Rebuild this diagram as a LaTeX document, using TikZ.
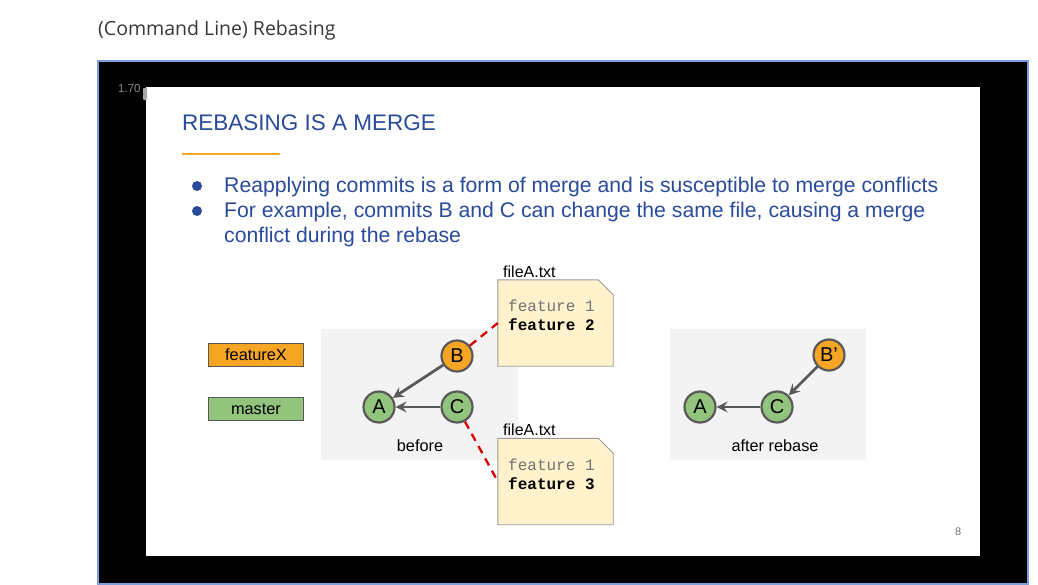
\documentclass[tikz,border=0pt]{standalone}
\usepackage{fontspec}
\setmainfont{Liberation Sans}
\setmonofont{Liberation Mono}
\newfontfamily\pagefont{Open Sans}
\usetikzlibrary{arrows.meta}

\definecolor{slideblue}{HTML}{2A4B9B}
\definecolor{gitorange}{HTML}{F6A623}
\definecolor{gitgreen}{HTML}{93C47D}
\definecolor{edgegray}{HTML}{595959}
\definecolor{notefill}{HTML}{FFF2CC}
\definecolor{panelgray}{HTML}{F3F3F3}
\definecolor{frameblue}{HTML}{7E9FDB}

\tikzset{
  txt/.style={anchor=base west, inner sep=0pt},
  bullettxt/.style={txt, text=slideblue, font=\fontsize{21.2}{21}\selectfont},
  bulletdot/.style={circle, fill=slideblue, minimum size=10pt, inner sep=0pt},
  commit/.style={circle, draw=edgegray, line width=2.2pt, minimum size=31pt, inner sep=0pt, font=\fontsize{20}{20}\selectfont},
  branchbox/.style={draw=edgegray, line width=1.6pt, minimum width=95pt, minimum height=23pt, inner sep=0pt, font=\fontsize{16.3}{16}\selectfont},
  notebox/.style={minimum width=115pt, minimum height=86pt, inner sep=0pt},
  notefold/.style={draw=black!40, line width=0.9pt, fill=notefill},
  parent/.style={-{Stealth[length=11pt,width=11pt,inset=4pt]}, draw=edgegray, line width=2.8pt},
  conflict/.style={draw=red!85!black, line width=2.3pt, dash pattern=on 8pt off 6pt}
}

\begin{document}
\begin{tikzpicture}[x=1pt, y=-1pt]
  \useasboundingbox[fill=white] (0,0) rectangle (1038,585);
  % page heading
  \node[txt, text=black!78, font=\pagefont\fontsize{19.5}{20}\selectfont] (heading) at (98,36) {(Command Line) Rebasing};
  % black player frame and white slide
  \draw[fill=black, draw=frameblue, line width=2pt] (98,61) rectangle (1028,584);
  \fill[white] (146,87) rectangle (980,556);
  \fill[black!35, rounded corners=1pt] (143,88) rectangle (147,100);
  \node[txt, text=black!45, font=\fontsize{11.5}{12}\selectfont] (speed) at (118,93) {1.70};

  % slide title
  \node[txt, text=slideblue, font=\fontsize{22.5}{22}\selectfont] (title) at (182,131) {REBASING IS A MERGE};
  \draw[gitorange, line width=2pt] (182,154) -- (280,154);

  % bullets
  \node[bulletdot] (dot1) at (197,186) {};
  \node[bulletdot] (dot2) at (197,211) {};
  \node[bullettxt] (line1) at (224,193) {Reapplying commits is a form of merge and is susceptible to merge conflicts};
  \node[bullettxt] (line2) at (224,218) {For example, commits B and C can change the same file, causing a merge};
  \node[bullettxt] (line3) at (224,243) {conflict during the rebase};

  % panels
  \fill[panelgray] (321,329) rectangle (518,460);
  \fill[panelgray] (670,329) rectangle (866,460);

  % branch labels
  \node[branchbox, fill=gitorange] (featureX) at (256,355) {featureX};
  \node[branchbox, fill=gitgreen] (master) at (256,409) {master};

  % before
  \node[commit, fill=gitorange] (B) at (457,356) {B};
  \node[commit, fill=gitgreen] (A) at (379,407) {A};
  \node[commit, fill=gitgreen] (C) at (457,407) {C};
  \draw[parent] (B) -- (A);
  \draw[parent] (C) -- (A);
  \node[font=\fontsize{16.3}{16}\selectfont] (before) at (420,446) {before};

  % after rebase
  \node[commit, fill=gitorange] (B2) at (829,355) {B'};
  \node[commit, fill=gitgreen] (A2) at (700,407) {A};
  \node[commit, fill=gitgreen] (C2) at (777,407) {C};
  \draw[parent] (B2) -- (C2);
  \draw[parent] (C2) -- (A2);
  \node[font=\fontsize{16.3}{16}\selectfont] (after) at (775,446) {after rebase};

  % files
  \node[txt, font=\fontsize{16}{16}\selectfont] (file1) at (503,277) {fileA.txt};
  \node[notebox] (note1) at (555.5,323) {};
  \draw[notefold] (note1.north west) -- ([xshift=-15pt]note1.north east) -- ([yshift=-15pt]note1.north east)
    -- (note1.south east) -- (note1.south west) -- cycle;
  \node[txt, text=black!55, font=\ttfamily\fontsize{16}{16}\selectfont] (n1a) at (508,311) {feature 1};
  \node[txt, font=\ttfamily\bfseries\fontsize{16}{16}\selectfont] (n1b) at (508,330) {feature 2};
  \node[txt, font=\fontsize{16}{16}\selectfont] (file2) at (503,435) {fileA.txt};
  \node[notebox] (note2) at (555.5,481.5) {};
  \draw[notefold] (note2.north west) -- ([xshift=-15pt]note2.north east) -- ([yshift=-15pt]note2.north east)
    -- (note2.south east) -- (note2.south west) -- cycle;
  \node[txt, text=black!55, font=\ttfamily\fontsize{16}{16}\selectfont] (n2a) at (508,470) {feature 1};
  \node[txt, font=\ttfamily\bfseries\fontsize{16}{16}\selectfont] (n2b) at (508,489) {feature 3};
  \draw[conflict] (B) -- (note1.west);
  \draw[conflict] (C) -- (note2.west);

  % slide number
  \node[txt, text=black!55, font=\fontsize{11}{11}\selectfont] (pagenum) at (955,535) {8};
\end{tikzpicture}
\end{document}
